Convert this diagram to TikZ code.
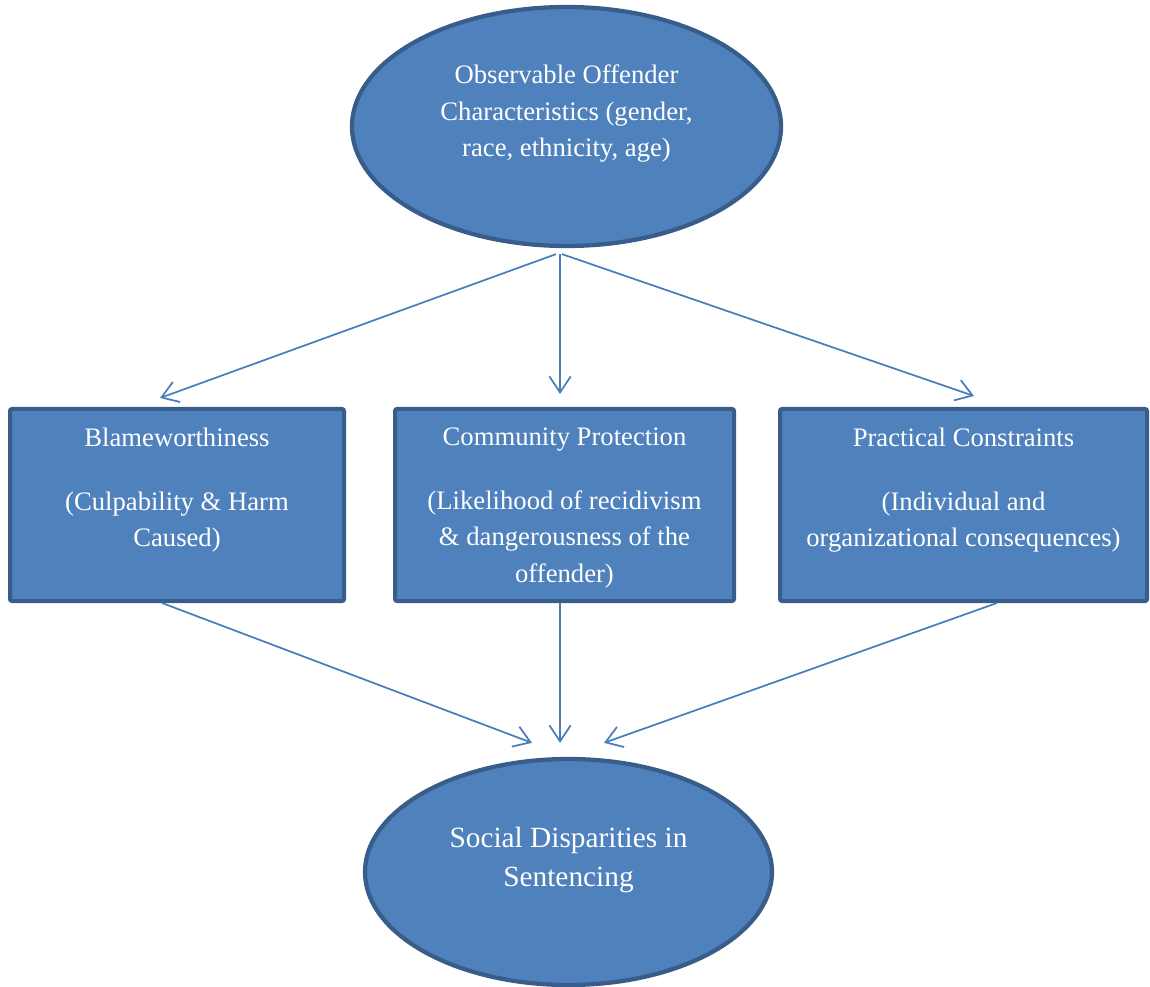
\documentclass[tikz,border=0pt]{standalone}
\usepackage{fontspec}
\setmainfont{Liberation Serif}
\usepackage{tikz}
\usetikzlibrary{arrows.meta,positioning,calc,shapes.geometric}

\definecolor{boxfill}{HTML}{4F81BD}
\definecolor{boxline}{HTML}{385D8A}
\definecolor{arrline}{HTML}{4A7EBB}

\begin{document}
\begin{tikzpicture}[x=0.75pt,y=-0.75pt]
    \tikzstyle{oval}=[draw=boxline,fill=boxfill,ellipse,line width=3.2pt]
    \tikzstyle{box}=[draw=boxline,fill=boxfill,rectangle,rounded corners=1.5pt,line width=3pt,minimum height=144pt]
    \tikzstyle{txt}=[text=white,align=center,inner sep=0pt,font=\fontsize{20}{27.5}\selectfont]
    \tikzstyle{arr}=[draw=arrline,line width=1.3pt,-{Straight Barb[length=12pt,width=16pt]}]

    \useasboundingbox (0,0) rectangle (1150,987);

    \node[oval,minimum width=321.75pt,minimum height=179.25pt] at (566.5,126.5) (obs) {};
    \node[txt] at ($(obs.center)+(0,-13)$) (obstxt) {Observable Offender\\Characteristics (gender,\\race, ethnicity, age)};

    \node[box,minimum width=250.5pt] at (177,505) (blame) {};
    \node[box,minimum width=254.25pt] at (564.5,505) (comm) {};
    \node[box,minimum width=275.25pt] at (963.5,505) (prac) {};

    \node[txt,anchor=north] at ($(blame.north)+(0,21)$) (blametxt) {Blameworthiness\\[20pt](Culpability \& Harm\\Caused)};
    \node[txt,anchor=north] at ($(comm.north)+(0,21)$) (commtxt) {Community Protection\\[20pt](Likelihood of recidivism\\\& dangerousness of the\\offender)};
    \node[txt,anchor=north] at ($(prac.north)+(0,21)$) (practxt) {Practical Constraints\\[20pt](Individual and\\organizational consequences)};

    \node[oval,minimum width=305.25pt,minimum height=169.5pt] at (568.5,872) (soc) {};
    \node[txt,font=\fontsize{22}{29.5}\selectfont] at ($(soc.center)+(0,-12)$) (soctxt) {Social Disparities in\\Sentencing};

    % into the three boxes
    \draw[arr] ($(obs.south)+(-10.5,6)$) -- ($(blame.north)+(-17,-9)$);
    \draw[arr] ($(obs.south)+(-6.5,6)$) -- ($(comm.north)+(-4.5,-13)$);
    \draw[arr] ($(obs.south)+(-4.5,6)$) -- ($(prac.north)+(10.5,-11)$);

    % out of the boxes
    \foreach \b/\sx/\ex in {blame/-15/-36.5,comm/-4.5/-8.5,prac/33.5/35.5} {
      \draw[arr] ($(\b.south)+(\sx,0)$) -- ($(soc.north)+(\ex,-14)$);
    }
\end{tikzpicture}
\end{document}
